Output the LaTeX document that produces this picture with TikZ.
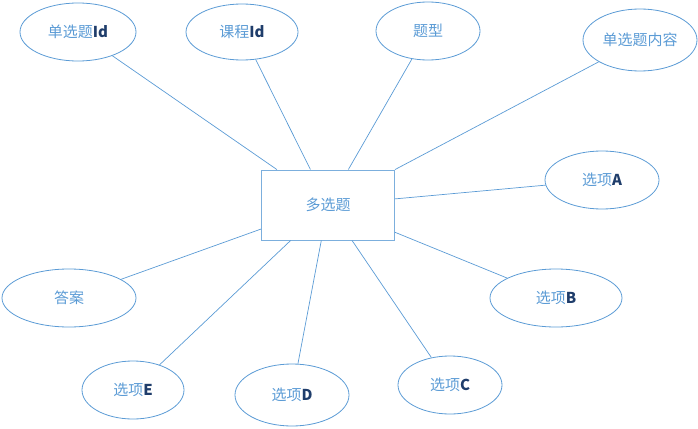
\documentclass[tikz,border=0pt]{standalone}
\usepackage{fontspec}
\setmainfont{Liberation Sans}
\newfontfamily\cjk{Noto Sans CJK SC}
\usetikzlibrary{shapes.geometric}
\definecolor{erblue}{HTML}{5B9BD5}
\definecolor{idblue}{HTML}{1F3D6B}
\newcommand{\lat}[1]{{\bfseries\color{idblue}#1}}
\begin{document}
\begin{tikzpicture}[x=1pt,y=-1pt]
\tikzstyle{attr}=[draw=erblue,line width=0.8pt,ellipse,inner sep=0pt,text=erblue,font=\cjk\fontsize{15}{17}\selectfont]
\tikzstyle{entity}=[draw=erblue!80,line width=0.9pt,rectangle,minimum width=133pt,minimum height=70pt,text=erblue,font=\cjk\fontsize{15}{17}\selectfont]
\tikzstyle{link}=[draw=erblue,line width=0.7pt]
\useasboundingbox(0,0)rectangle(698,428);
\node[entity](box)at(328,205){多选题};
\node[attr,minimum width=116pt,minimum height=58pt](qid)at(78,32){单选题\lat{Id}};
\node[attr,minimum width=112pt,minimum height=56pt](cid)at(242,32){课程\lat{Id}};
\node[attr,minimum width=104pt,minimum height=58pt](qtype)at(428,31){题型};
\node[attr,minimum width=114pt,minimum height=62pt](qtext)at(640,40){单选题内容};
\node[attr,minimum width=114pt,minimum height=58pt](optA)at(602,180){选项\lat{A}};
\node[attr,minimum width=132pt,minimum height=58pt](optB)at(556,298){选项\lat{B}};
\node[attr,minimum width=104pt,minimum height=58pt](optC)at(450,385){选项\lat{C}};
\node[attr,minimum width=114pt,minimum height=62pt](optD)at(292,395){选项\lat{D}};
\node[attr,minimum width=102pt,minimum height=58pt](optE)at(133,390){选项\lat{E}};
\node[attr,minimum width=134pt,minimum height=58pt](answer)at(69,298){答案};
\path[link](qid)--(box);
\path[link](cid)--(box);
\path[link](qtype)--(box);
\path[link](qtext)--(box);
\path[link](optA)--(box);
\path[link](optB)--(box);
\path[link](optC)--(box);
\path[link](optD)--(box);
\path[link](optE)--(box);
\path[link](answer)--(box);
\end{tikzpicture}
\end{document}
